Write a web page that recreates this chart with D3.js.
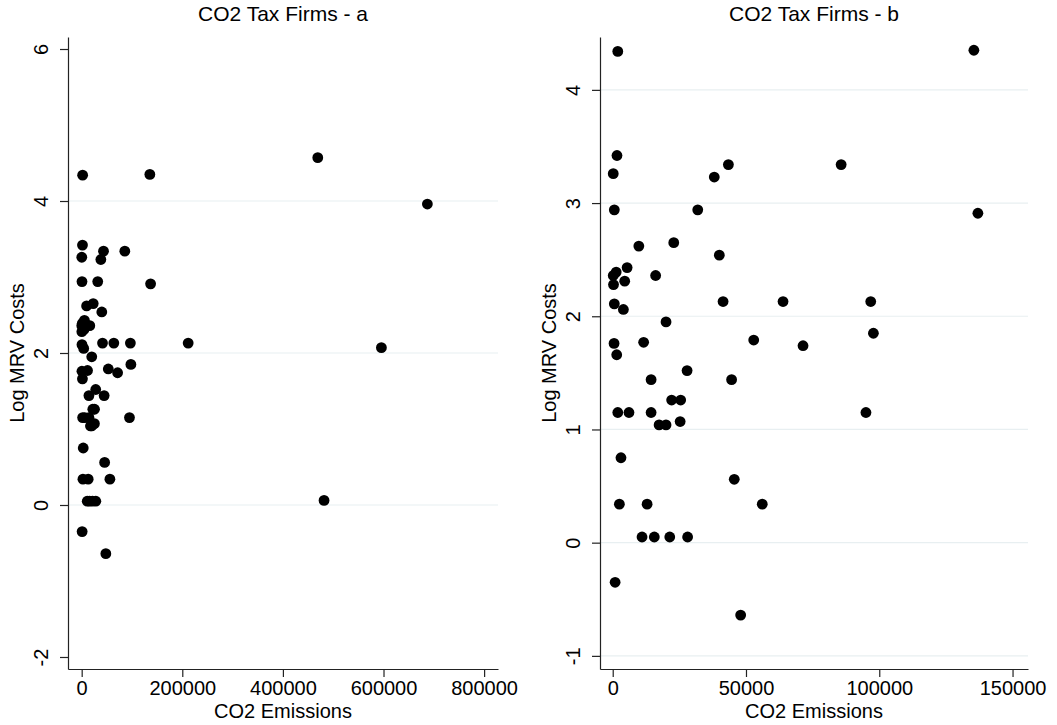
<!DOCTYPE html>
<html>
<head>
<meta charset="utf-8">
<script src="https://cdn.jsdelivr.net/npm/d3@7"></script>
<style>
  body { margin: 0; background: #fff; }
  svg { display: block; font-family: "Liberation Sans", Arial, Helvetica, sans-serif; }
</style>
</head>
<body>
<svg id="chart" width="1057" height="725"></svg>
<script>
// CO2 emissions (tonnes) and log MRV costs, one entry per firm
const co2Emissions = [
    1900, 1600, 200, 38100, 43400, 600, 31900, 9800, 22900, 40000,
    5400, 1300, 200, 16100, 4500, 300, 600, 4000, 41400, 20000,
    500, 11600, 1500, 27900, 14400, 44600, 22100, 25500, 1900, 6100,
    14400, 17400, 20000, 25300, 3100, 2500, 12900, 11000, 15600, 21400,
    28100, 900, 135500, 85700, 137000, 63900, 96800, 52900, 71400, 97800,
    95000, 45600, 56100, 48000,
    469300, 687200, 211700, 595800, 481800
];
const logMrvCosts = [
    4.34, 3.42, 3.26, 3.23, 3.34, 2.94, 2.94, 2.62, 2.65, 2.54,
    2.43, 2.39, 2.36, 2.36, 2.31, 2.28, 2.11, 2.06, 2.13, 1.95,
    1.76, 1.77, 1.66, 1.52, 1.44, 1.44, 1.26, 1.26, 1.15, 1.15,
    1.15, 1.04, 1.04, 1.07, 0.75, 0.34, 0.34, 0.05, 0.05, 0.05,
    0.05, -0.35, 4.35, 3.34, 2.91, 2.13, 2.13, 1.79, 1.74, 1.85,
    1.15, 0.56, 0.34, -0.64,
    4.57, 3.96, 2.13, 2.07, 0.06
];

const xTicksA = [0, 200000, 400000, 600000, 800000];
const yTicksA = [-2, 0, 2, 4, 6];
const yGridA = [0, 2, 4];
const xTicksB = [0, 50000, 100000, 150000];
const yTicksB = [-1, 0, 1, 2, 3, 4];
const yGridB = [-1, 0, 1, 2, 3, 4];
const limitB = 150000;

const firms = co2Emissions.map((v, i) => ({ x: v, y: logMrvCosts[i] }));

const svg = d3.select('#chart');
svg.append('rect').attr('width', 1057).attr('height', 725).attr('fill', '#fff');

// plain hyphen minus, like the original
const plain = d => String(d);

function panel(opts) {
    const { box, xDomain, yDomain, xTicks, yTicks, yGrid, title, data } = opts;
    const x = d3.scaleLinear().domain(xDomain).range([box.x0, box.x1]);
    const y = d3.scaleLinear().domain(yDomain).range([box.y1, box.y0]);
    const g = svg.append('g');

    // gridlines
    g.append('g').selectAll('line').data(yGrid).join('line')
        .attr('x1', box.x0).attr('x2', box.x1)
        .attr('y1', d => y(d)).attr('y2', d => y(d))
        .attr('stroke', '#e8eff1').attr('stroke-width', 1.2);

    // points
    g.append('g').selectAll('circle').data(data).join('circle')
        .attr('cx', d => x(d.x)).attr('cy', d => y(d.y))
        .attr('r', 5.4).attr('fill', '#000');

    // axes
    const xAxis = g.append('g').attr('transform', `translate(0,${box.y1})`)
        .call(d3.axisBottom(x).tickValues(xTicks).tickFormat(plain).tickSize(8).tickSizeOuter(0).tickPadding(4));
    xAxis.selectAll('text').attr('font-size', '20px').attr('fill', '#000').attr('dy', '0.72em');

    const yAxis = g.append('g').attr('transform', `translate(${box.x0},0)`)
        .call(d3.axisLeft(y).tickValues(yTicks).tickFormat(plain).tickSize(8).tickSizeOuter(0));
    yAxis.selectAll('text')
        .attr('x', 0).attr('dy', 0)
        .attr('transform', 'translate(-20,0) rotate(-90)')
        .attr('text-anchor', 'middle')
        .attr('font-size', '20px').attr('fill', '#000');

    [xAxis, yAxis].forEach(a => {
        a.selectAll('.domain, line').attr('stroke', '#222').attr('stroke-width', 1.2);
        a.attr('font-family', null);
    });

    // titles
    g.append('text')
        .attr('x', (box.x0 + box.x1) / 2).attr('y', box.y1 + 49)
        .attr('text-anchor', 'middle').attr('font-size', '20px').attr('fill', '#000')
        .text('CO2 Emissions');
    g.append('text')
        .attr('transform', `translate(${box.x0 - 44},${(box.y0 + box.y1) / 2}) rotate(-90)`)
        .attr('text-anchor', 'middle').attr('font-size', '20px').attr('fill', '#000')
        .text('Log MRV Costs');
    g.append('text')
        .attr('x', (box.x0 + box.x1) / 2).attr('y', 21)
        .attr('text-anchor', 'middle').attr('font-size', '21px').attr('fill', '#000')
        .text(title);
}

panel({
    box: { x0: 68, x1: 498, y0: 37, y1: 669 },
    xDomain: [-27200, 827600],
    yDomain: [-2.158, 6.158],
    xTicks: xTicksA, yTicks: yTicksA, yGrid: yGridA,
    title: 'CO2 Tax Firms - a',
    data: firms
});

panel({
    box: { x0: 600, x1: 1028, y0: 37, y1: 669 },
    xDomain: [-4770, 155800],
    yDomain: [-1.116, 4.467],
    xTicks: xTicksB, yTicks: yTicksB, yGrid: yGridB,
    title: 'CO2 Tax Firms - b',
    data: firms.filter(d => d.x < limitB)
});
</script>
</body>
</html>
